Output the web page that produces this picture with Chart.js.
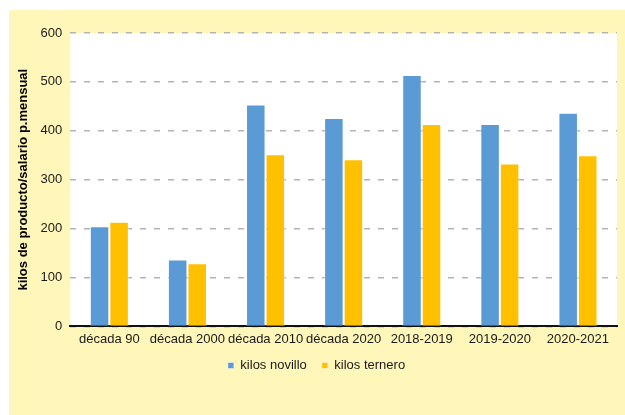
<!DOCTYPE html>
<html>
<head>
<meta charset="utf-8">
<script src="https://cdn.jsdelivr.net/npm/chart.js@4"></script>
<style>
  html, body { margin: 0; padding: 0; background: #fff; }
  #wrap { width: 625px; height: 415px; position: relative; }
</style>
</head>
<body>
<div id="wrap"><canvas id="kilosChart"></canvas></div>
<script>
const categories = ['década 90', 'década 2000', 'década 2010', 'década 2020', '2018-2019', '2019-2020', '2020-2021'];
const kilosNovillo = [205, 137, 454, 426, 514, 414, 437];
const kilosTernero = [214, 129, 352, 342, 414, 333, 350];

const panelBackground = {
    id: 'panelBackground',
    beforeDraw(chart) {
        const ctx = chart.ctx;
        const area = chart.chartArea;
        ctx.save();
        ctx.fillStyle = '#ffffff';
        ctx.fillRect(0, 0, chart.width, chart.height);
        ctx.fillStyle = '#fff6b9';
        ctx.fillRect(9, 10, chart.width - 9, chart.height - 10);
        ctx.fillStyle = '#ffffff';
        ctx.fillRect(area.left, area.top, area.right - area.left, area.bottom - area.top);
        ctx.restore();
    }
};

const ctx = document.getElementById('kilosChart').getContext('2d');
new Chart(ctx, {
    type: 'bar',
    data: {
        labels: categories,
        datasets: [
            {
                label: 'kilos novillo',
                data: kilosNovillo,
                backgroundColor: '#5b9bd5',
                borderColor: 'rgba(255,255,255,0.45)',
                borderWidth: 1,
                categoryPercentage: 0.5,
                barPercentage: 1.0
            },
            {
                label: 'kilos ternero',
                data: kilosTernero,
                backgroundColor: '#ffc000',
                borderColor: 'rgba(255,255,255,0.45)',
                borderWidth: 1,
                categoryPercentage: 0.5,
                barPercentage: 1.0
            }
        ]
    },
    options: {
        responsive: true,
        maintainAspectRatio: false,
        animation: false,
        devicePixelRatio: 1,
        layout: {
            padding: { left: 16, top: 33, right: 8, bottom: 33 }
        },
        scales: {
            x: {
                grid: { display: false },
                border: { display: true, color: '#111', width: 2 },
                ticks: {
                    color: '#1a1a1a',
                    font: { family: 'Liberation Sans', size: 13 },
                    maxRotation: 0,
                    autoSkip: false,
                    padding: -3
                }
            },
            y: {
                min: 0,
                max: 600,
                ticks: {
                    stepSize: 100,
                    color: '#1a1a1a',
                    font: { family: 'Liberation Sans', size: 13 },
                    padding: 8
                },
                grid: {
                    color: '#b3b3b3',
                    lineWidth: 1.5,
                    drawTicks: false
                },
                border: { display: false, dash: [6, 8] },
                title: {
                    display: true,
                    text: 'kilos de producto/salario p.mensual',
                    color: '#000',
                    font: { family: 'Liberation Sans', size: 13, weight: 'bold' },
                    padding: { top: 0, bottom: 1 }
                }
            }
        },
        plugins: {
            legend: {
                position: 'bottom',
                labels: {
                    boxWidth: 6,
                    boxHeight: 6,
                    padding: 15,
                    color: '#1a1a1a',
                    font: { family: 'Liberation Sans', size: 13 }
                }
            },
            tooltip: { enabled: false }
        }
    },
    plugins: [panelBackground]
});
</script>
</body>
</html>
